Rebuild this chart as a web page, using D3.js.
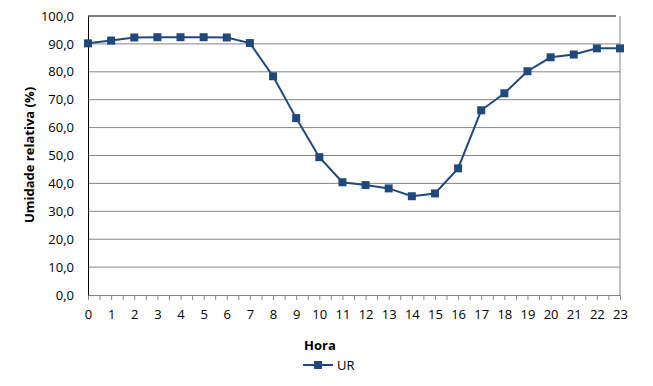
<!DOCTYPE html>
<html>
<head>
<meta charset="utf-8">
<script src="https://cdn.jsdelivr.net/npm/d3@7"></script>
<style>
  body { margin: 0; background: #fff; }
  text { font-family: "Open Sans", "Noto Sans", sans-serif; fill: #000; }
</style>
</head>
<body>
<div id="chart"></div>
<script>
// data
let hours = d3.range(24)
let ur = [90.2, 91.2, 92.3, 92.4, 92.4, 92.4, 92.3, 90.3, 78.4, 63.4, 49.4, 40.4, 39.4, 38.2, 35.4, 36.4,
  45.4, 66.2, 72.3, 80.2, 85.2, 86.2, 88.4, 88.4]
let yTicks = d3.range(0, 101, 10)

let width = 653, height = 386
let plotLeft = 88, plotRight = 620, plotTop = 16, plotBottom = 295

let svg = d3.select("#chart").append("svg")
  .attr("width", width)
  .attr("height", height)

let x = d3.scaleLinear().domain([0, 23]).range([plotLeft, plotRight])
let y = d3.scaleLinear().domain([0, 100]).range([plotBottom, plotTop])

// gridlines
svg.append("g")
  .selectAll("line")
  .data(yTicks.filter(d => d > 0 && d < 100))
  .enter()
  .append("line")
  .attr("x1", plotLeft).attr("x2", plotRight)
  .attr("y1", d => y(d)).attr("y2", d => y(d))
  .attr("stroke", "#868686")
  .attr("stroke-width", 1)

// borders
svg.append("line")
  .attr("x1", plotLeft).attr("x2", plotRight - 4)
  .attr("y1", plotTop).attr("y2", plotTop)
  .attr("stroke", "#000")
svg.append("line")
  .attr("x1", plotRight).attr("x2", plotRight)
  .attr("y1", plotTop).attr("y2", plotBottom)
  .attr("stroke", "#868686")

// x axis with ticks every half hour
let xAxis = d3.axisBottom(x)
  .tickValues(d3.range(0, 23.01, 0.5))
  .tickSize(5)
  .tickFormat(d => Number.isInteger(d) ? d : "")
let gx = svg.append("g")
  .attr("transform", `translate(0,${plotBottom})`)
  .call(xAxis)
gx.select(".domain").attr("stroke", "#868686")
gx.selectAll(".tick line").attr("stroke", "#868686")
gx.selectAll(".tick text")
  .attr("y", 15)
  .attr("font-size", 13)
  .attr("font-family", "Open Sans, sans-serif")

// y axis
let yAxis = d3.axisLeft(y)
  .tickValues(yTicks)
  .tickSize(0)
  .tickPadding(14)
  .tickFormat(d => d3.format(".1f")(d).replace(".", ","))
let gy = svg.append("g")
  .attr("transform", `translate(${plotLeft},0)`)
  .call(yAxis)
gy.select(".domain").attr("stroke", "#000")
gy.selectAll(".tick text")
  .attr("font-size", 13)
  .attr("font-family", "Open Sans, sans-serif")

// line
let color = "#1f497d"
svg.append("path")
  .attr("d", d3.line().x((d, i) => x(hours[i])).y(d => y(d))(ur))
  .attr("fill", "none")
  .attr("stroke", color)
  .attr("stroke-width", 2)

svg.append("g")
  .selectAll("rect")
  .data(ur)
  .enter()
  .append("rect")
  .attr("x", (d, i) => x(hours[i]) - 4)
  .attr("y", d => y(d) - 4)
  .attr("width", 8)
  .attr("height", 8)
  .attr("fill", color)

// axis titles
svg.append("text")
  .attr("x", 320).attr("y", 350)
  .attr("text-anchor", "middle")
  .attr("font-size", 13)
  .attr("font-weight", "bold")
  .text("Hora")

svg.append("text")
  .attr("transform", "translate(34,155) rotate(-90)")
  .attr("text-anchor", "middle")
  .attr("font-size", 13)
  .attr("font-weight", "bold")
  .text("Umidade relativa (%)")

// legend
svg.append("line")
  .attr("x1", 303).attr("x2", 333)
  .attr("y1", 365).attr("y2", 365)
  .attr("stroke", color)
  .attr("stroke-width", 2)
svg.append("rect")
  .attr("x", 314).attr("y", 361)
  .attr("width", 8).attr("height", 8)
  .attr("fill", color)
svg.append("text")
  .attr("x", 337).attr("y", 370)
  .attr("font-size", 13)
  .text("UR")
</script>
</body>
</html>
